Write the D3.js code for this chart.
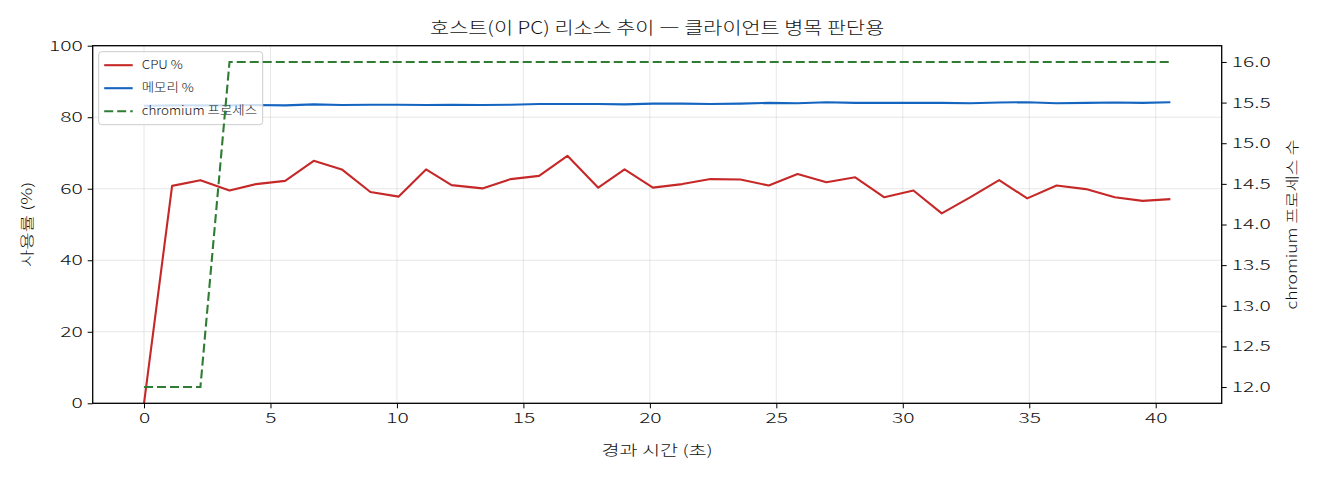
<!DOCTYPE html>
<html>
<head>
<meta charset="utf-8">
<script src="https://cdn.jsdelivr.net/npm/d3@7"></script>
<style>
  body { margin: 0; background: #fff; }
  svg text { font-family: "Noto Sans CJK KR", "Noto Sans", sans-serif; fill: #111; font-weight: 300; }
  .tick line { stroke: #000; stroke-width: 1; }
  .tick text { font-size: 13.5px; }
</style>
</head>
<body>
<svg id="chart" width="1320" height="480"></svg>
<script>
// elapsed seconds per sample
var times = [0, 1.11, 2.23, 3.38, 4.43, 5.58, 6.71, 7.82, 8.95, 10.07, 11.15, 12.16, 13.38,
  14.50, 15.62, 16.74, 17.96, 19.00, 20.12, 21.28, 22.40, 23.58, 24.70, 25.84, 26.98,
  28.12, 29.27, 30.42, 31.54, 32.66, 33.81, 34.92, 36.08, 37.24, 38.38, 39.48, 40.58];
var cpu = [0, 60.8, 62.4, 59.5, 61.3, 62.2, 67.8, 65.4, 59.1, 57.8, 65.4, 61.0, 60.1,
  62.7, 63.6, 69.2, 60.3, 65.4, 60.3, 61.3, 62.7, 62.6, 60.9, 64.1, 61.8,
  63.2, 57.6, 59.5, 53.1, 57.6, 62.4, 57.3, 60.9, 59.9, 57.6, 56.6, 57.1];
var mem = [83.2, 83.3, 83.3, 83.3, 83.4, 83.3, 83.6, 83.4, 83.5, 83.5, 83.4, 83.5, 83.4,
  83.5, 83.7, 83.7, 83.7, 83.6, 83.8, 83.8, 83.7, 83.8, 84.0, 83.9, 84.2,
  84.0, 84.0, 84.0, 84.0, 83.9, 84.1, 84.2, 83.9, 84.0, 84.1, 84.0, 84.2];
var chromium = [12, 12, 12, 16, 16, 16, 16, 16, 16, 16, 16, 16, 16,
  16, 16, 16, 16, 16, 16, 16, 16, 16, 16, 16, 16,
  16, 16, 16, 16, 16, 16, 16, 16, 16, 16, 16, 16];

var xTicks = [0, 5, 10, 15, 20, 25, 30, 35, 40];
var leftTicks = [0, 20, 40, 60, 80, 100];
var rightTicks = [12, 12.5, 13, 13.5, 14, 14.5, 15, 15.5, 16];

var legendItems = [
  { label: "CPU %", color: "#c62828", dash: null },
  { label: "메모리 %", color: "#1565c0", dash: null },
  { label: "chromium 프로세스", color: "#2e7d32", dash: "9,4" }
];

var svg = d3.select("#chart");
var margin = { top: 45.7, right: 98.3, bottom: 76.7, left: 92.7 };
var width = 1320 - margin.left - margin.right,
  height = 480 - margin.top - margin.bottom;

// the reference font is much wider than Noto, so stretch text to fit
function widen(sel, factor, mode) {
  sel.each(function() {
    var len = this.getComputedTextLength();
    d3.select(this)
      .attr("textLength", len * factor)
      .attr("lengthAdjust", mode || "spacingAndGlyphs");
  });
}

var g = svg.append("g")
  .attr("transform", "translate(" + margin.left + "," + margin.top + ")");

// matplotlib style 5% padding
var tmin = d3.min(times), tmax = d3.max(times);
var pad = (tmax - tmin) * 0.05;
var x = d3.scaleLinear().domain([tmin - pad, tmax + pad]).range([0, width]);
var y = d3.scaleLinear().domain([0, 100]).range([height, 0]);
var cmin = d3.min(chromium), cmax = d3.max(chromium);
var cpad = (cmax - cmin) * 0.05;
var y2 = d3.scaleLinear().domain([cmin - cpad, cmax + cpad]).range([height, 0]);

// grid
g.append("g")
  .selectAll("line")
  .data(xTicks)
  .enter().append("line")
  .attr("x1", function(d) { return x(d); })
  .attr("x2", function(d) { return x(d); })
  .attr("y1", 0).attr("y2", height)
  .style("stroke", "#b0b0b0").style("stroke-opacity", 0.3).style("stroke-width", 1);
g.append("g")
  .selectAll("line")
  .data(leftTicks)
  .enter().append("line")
  .attr("y1", function(d) { return y(d); })
  .attr("y2", function(d) { return y(d); })
  .attr("x1", 0).attr("x2", width)
  .style("stroke", "#b0b0b0").style("stroke-opacity", 0.3).style("stroke-width", 1);

var idx = d3.range(times.length);

var lineCpu = d3.line().x(function(i) { return x(times[i]); }).y(function(i) { return y(cpu[i]); });
var lineMem = d3.line().x(function(i) { return x(times[i]); }).y(function(i) { return y(mem[i]); });
var lineChr = d3.line().x(function(i) { return x(times[i]); }).y(function(i) { return y2(chromium[i]); });

g.append("path").datum(idx)
  .attr("d", lineCpu)
  .style("fill", "none").style("stroke", legendItems[0].color)
  .style("stroke-width", 2.1).style("stroke-linejoin", "round");
g.append("path").datum(idx)
  .attr("d", lineMem)
  .style("fill", "none").style("stroke", legendItems[1].color)
  .style("stroke-width", 2.1).style("stroke-linejoin", "round");

// legend (belongs to the left axes, under the twin axes line)
var lg = g.append("g").attr("transform", "translate(6,6)");
lg.append("rect")
  .attr("width", 164).attr("height", 73)
  .attr("rx", 3).attr("ry", 3)
  .style("fill", "#fff").style("fill-opacity", 0.8)
  .style("stroke", "#cccccc").style("stroke-width", 1);
legendItems.forEach(function(d, i) {
  var yy = 13.5 + i * 23;
  lg.append("line")
    .attr("x1", 5.5).attr("x2", 34).attr("y1", yy).attr("y2", yy)
    .style("stroke", d.color).style("stroke-width", 2.1)
    .style("stroke-dasharray", d.dash);
  lg.append("text")
    .attr("x", 43).attr("y", yy).attr("dy", "0.35em")
    .style("font-size", "12px")
    .text(d.label)
    .call(widen, 1.12);
});

g.append("path").datum(idx)
  .attr("d", lineChr)
  .style("fill", "none").style("stroke", legendItems[2].color)
  .style("stroke-width", 2.1).style("stroke-dasharray", "9,4");

// axes
var xAxis = g.append("g")
  .attr("transform", "translate(0," + height + ")")
  .call(d3.axisBottom(x).tickValues(xTicks).tickFormat(d3.format("d")).tickSize(5).tickPadding(5));
var yAxis = g.append("g")
  .call(d3.axisLeft(y).tickValues(leftTicks).tickFormat(d3.format("d")).tickSize(5).tickPadding(5));
var y2Axis = g.append("g")
  .attr("transform", "translate(" + width + ",0)")
  .call(d3.axisRight(y2).tickValues(rightTicks).tickFormat(d3.format(".1f")).tickSize(5).tickPadding(5));
[xAxis, yAxis, y2Axis].forEach(function(a) {
  a.select(".domain").remove();
  a.selectAll(".tick text").style("font-size", "14px").call(widen, 1.5);
});

// frame
g.append("rect")
  .attr("width", width).attr("height", height)
  .style("fill", "none").style("stroke", "#000").style("stroke-width", 1.3);

// titles
svg.append("text")
  .attr("x", margin.left + width / 2).attr("y", 34)
  .attr("text-anchor", "middle")
  .style("font-size", "17px")
  .text("호스트(이 PC) 리소스 추이 ― 클라이언트 병목 판단용")
  .call(widen, 1.22);

svg.append("text")
  .attr("x", margin.left + width / 2).attr("y", 455)
  .attr("text-anchor", "middle")
  .style("font-size", "14px")
  .text("경과 시간 (초)")
  .call(widen, 1.4);

svg.append("text")
  .attr("transform", "translate(32," + (margin.top + height / 2) + ") rotate(-90)")
  .attr("text-anchor", "middle")
  .style("font-size", "14px")
  .text("사용률 (%)")
  .call(widen, 1.35);

svg.append("text")
  .attr("transform", "translate(1297," + (margin.top + height / 2) + ") rotate(-90)")
  .attr("text-anchor", "middle")
  .style("font-size", "14px")
  .text("chromium 프로세스 수")
  .call(widen, 1.25);
</script>
</body>
</html>
